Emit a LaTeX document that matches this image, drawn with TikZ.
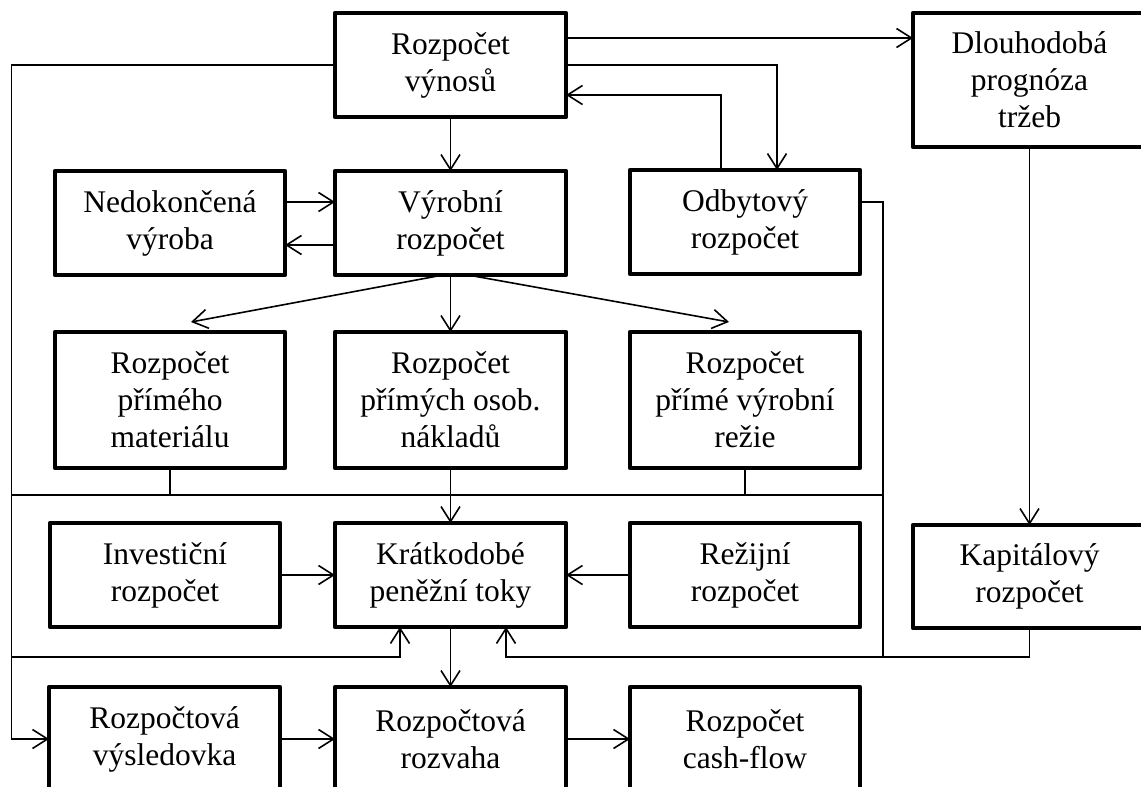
\documentclass[tikz,border=0pt]{standalone}
\usepackage{fontspec}
\setmainfont{Liberation Serif}
\usetikzlibrary{arrows.meta,calc}
\begin{document}
\begin{tikzpicture}[x=1pt,y=-1pt,
  box/.style={draw, line width=4.5pt, line join=round, inner sep=0pt, outer sep=0pt,
    align=center, font=\fontsize{31.5}{37}\selectfont,
    minimum width=231pt, minimum height=104pt},
  tall/.style={minimum height=136pt},
  con/.style={line width=1.6pt},
  arr/.style={con, -{Straight Barb[length=15pt,width=19pt,line width=1.6pt]}}]
\useasboundingbox (0,0) rectangle (1141,787);
\clip (0,0) rectangle (1141,787);
% nodes
\node[box] (vyn) at (450.5,65) {Rozpočet\\výnosů};
\node[box, minimum width=233pt, minimum height=134pt] (dlo) at (1029.5,80) {Dlouhodobá\\prognóza\\tržeb};
\node[box, minimum width=230pt] (ned) at (170,223) {Nedokončená\\výroba};
\node[box] (vyr) at (450.5,223) {Výrobní\\rozpočet};
\node[box, minimum width=230pt] (odb) at (745,222) {Odbytový\\rozpočet};
\node[box, tall, minimum width=230pt] (mat) at (170,400) {Rozpočet\\přímého\\materiálu};
\node[box, tall] (oso) at (450.5,400) {Rozpočet\\přímých osob.\\nákladů};
\node[box, tall, minimum width=230pt] (rez) at (745,400) {Rozpočet\\přímé výrobní\\režie};
\node[box, minimum width=230pt] (inv) at (165,575) {Investiční\\rozpočet};
\node[box] (kra) at (450.5,575) {Krátkodobé\\peněžní toky};
\node[box, minimum width=230pt] (rzj) at (745,575) {Režijní\\rozpočet};
\node[box, minimum width=233pt, minimum height=103pt] (kap) at (1029.5,576.5) {Kapitálový\\rozpočet};
\node[box] (vys) at (164.5,739) {Rozpočtová\\výsledovka};
\node[box] (roz) at (450.5,739) {Rozpočtová\\rozvaha};
\node[box, minimum width=230pt] (cf) at (745,739) {Rozpočet\\cash-flow};
% helper coordinates
\coordinate (lft) at (11.5,0);
\coordinate (rgt) at (883,0);
\coordinate (bus) at (0,495);
\coordinate (low) at (0,657);
\coordinate (d1) at ($(dlo.north west)+(0,25)$);
\coordinate (o1) at ($(odb.north)+(32,0)$);
\coordinate (o2) at ($(odb.north)+(-24,0)$);
\coordinate (v2) at ($(vyn.east)+(0,30)$);
\coordinate (o3) at ($(odb.east)+(0,-20)$);
\coordinate (k1) at ($(kra.south)+(55.5,0)$);
\coordinate (k2) at ($(kra.south)+(-50.5,0)$);
% connectors
\draw[arr] (vyn.east |- d1) -- (d1);
\draw[arr] (vyn.east) -| (o1);
\draw[arr] (o2) |- (v2);
\draw[arr] (vyn.west) -| (lft |- vys.west) -- (vys.west);
\draw[arr] (vyn.south) -- (vyr.north);
\draw[arr] ($(ned.east)+(0,-21)$) -- ($(vyr.west)+(0,-21)$);
\draw[arr] ($(vyr.west)+(0,22)$) -- ($(ned.east)+(0,22)$);
\draw[arr] (vyr.south) -- (oso.north);
\draw[arr] ($(vyr.south)+(-7.5,0)$) -- ($(mat.north)+(21,-10)$);
\draw[arr] ($(vyr.south)+(17.5,0)$) -- ($(rez.north)+(-16,-10)$);
\draw[con] (lft |- bus) -- (rgt |- bus);
\draw[con] (mat.south) -- (mat.south |- bus);
\draw[con] (rez.south) -- (rez.south |- bus);
\draw[arr] (oso.south) -- (kra.north);
\draw[con] (o3) -| (rgt |- low);
\draw[arr] (kap.south) |- (k1 |- low) -- (k1);
\draw[arr] (lft |- low) -| (k2);
\draw[arr] (inv.east) -- (kra.west);
\draw[arr] (rzj.west) -- (kra.east);
\draw[arr] (kra.south) -- (roz.north);
\draw[arr] (vys.east) -- (roz.west);
\draw[arr] (roz.east) -- (cf.west);
\draw[arr] (dlo.south) -- (kap.north);
\end{tikzpicture}
\end{document}
